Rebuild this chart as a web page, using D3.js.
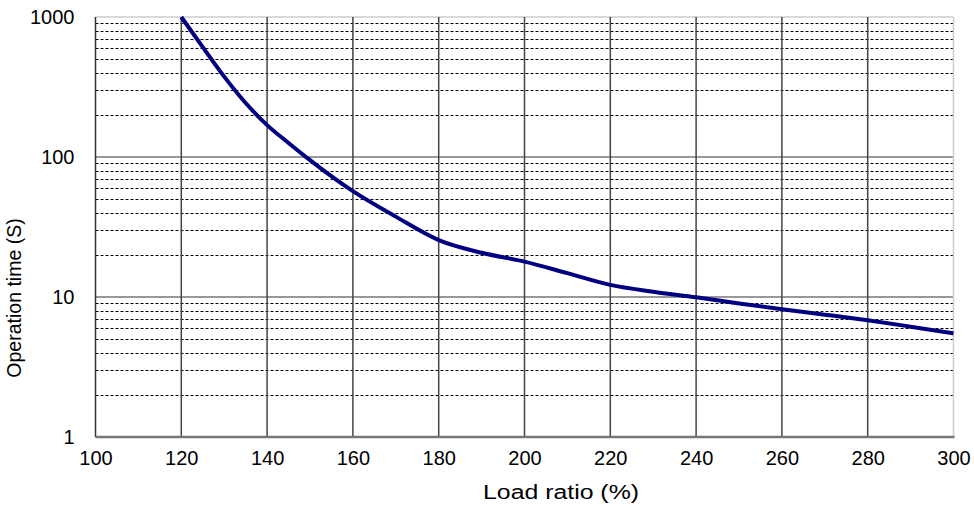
<!DOCTYPE html>
<html><head><meta charset="utf-8">
<script src="https://cdn.jsdelivr.net/npm/d3@7"></script>
<style>body{margin:0;background:#fff}svg{display:block}text{font-family:"Liberation Sans",Arial,sans-serif;fill:#000}</style>
</head><body><svg id="c" width="974" height="508"></svg>
<script>
const loadRatio = [120,125,130,135,140,145,150,160,170,180,190,200,210,220,230,240,250,260,270,280,290,300];
const opTime = [1000,610,375,243,169,126,95,57,37.5,25.5,20.7,17.9,14.8,12.2,10.9,9.95,9.0,8.17,7.48,6.82,6.14,5.5];
const xTicks = [100,120,140,160,180,200,220,240,260,280,300];
const yTicks = [1,10,100,1000];
const xTitle = "Load ratio (%)";
const yTitle = "Operation time (S)";

const svg = d3.select("#c");
const L=95.5, R=953.5, T=17, B=437;
const x = d3.scaleLinear().domain([100,300]).range([L,R]);
const y = d3.scaleLog().domain([1,1000]).range([B,T]);

// minor dashed lines
const minors=[];
for(let d=1; d<1000; d*=10) for(let k=2;k<=9;k++) minors.push(d*k);
svg.append("g").selectAll("line").data(minors).join("line")
  .attr("x1",L).attr("x2",R).attr("y1",d=>Math.round(y(d))+0.5).attr("y2",d=>Math.round(y(d))+0.5)
  .attr("stroke","#000").attr("stroke-width",1).attr("stroke-dasharray","3,2");
// major horizontal
svg.append("g").selectAll("line").data([10,100]).join("line")
  .attr("x1",L).attr("x2",R).attr("y1",d=>y(d)).attr("y2",d=>y(d))
  .attr("stroke","#777").attr("stroke-width",1.5);
// top border
svg.append("line").attr("x1",L).attr("x2",R).attr("y1",y(1000)).attr("y2",y(1000)).attr("stroke","#ccc").attr("stroke-width",1.5);
// vertical lines
svg.append("g").selectAll("line").data(xTicks.slice(1,-1)).join("line")
  .attr("x1",d=>x(d)).attr("x2",d=>x(d)).attr("y1",T).attr("y2",B)
  .attr("stroke","#444").attr("stroke-width",1.5);
svg.append("line").attr("x1",R).attr("x2",R).attr("y1",T).attr("y2",B).attr("stroke","#ccc").attr("stroke-width",1.5);
svg.append("line").attr("x1",L).attr("x2",L).attr("y1",T).attr("y2",B).attr("stroke","#333").attr("stroke-width",1.5);
svg.append("line").attr("x1",L).attr("x2",R+1).attr("y1",B).attr("y2",B).attr("stroke","#777").attr("stroke-width",2.5);

// ticks labels via axes
const xAxis = svg.append("g").attr("transform",`translate(0,${B})`)
  .call(d3.axisBottom(x).tickValues(xTicks).tickSize(0).tickPadding(14).tickFormat(d3.format("d")));
xAxis.select(".domain").remove();
xAxis.selectAll("text").attr("font-size",20).attr("font-family","Liberation Sans, Arial").attr("fill","#000");
const yAxis = svg.append("g").attr("transform",`translate(${L},0)`)
  .call(d3.axisLeft(y).tickValues(yTicks).tickSize(0).tickPadding(21).tickFormat(d3.format("d")));
yAxis.select(".domain").remove();
yAxis.selectAll("text").attr("font-size",20).attr("font-family","Liberation Sans, Arial").attr("fill","#000");

svg.append("text").attr("x",561).attr("y",499).attr("text-anchor","middle").attr("font-size",20)
  .attr("textLength",156).attr("lengthAdjust","spacingAndGlyphs").text(xTitle);
svg.append("text").attr("transform","translate(21,298) rotate(-90)").attr("text-anchor","middle").attr("font-size",19.5).text(yTitle);

const line = d3.line().x((d,i)=>x(loadRatio[i])).y(d=>y(d)).curve(d3.curveMonotoneX);
svg.append("path").datum(opTime).attr("d",line).attr("fill","none").attr("stroke","#000080").attr("stroke-width",4);
</script></body></html>
